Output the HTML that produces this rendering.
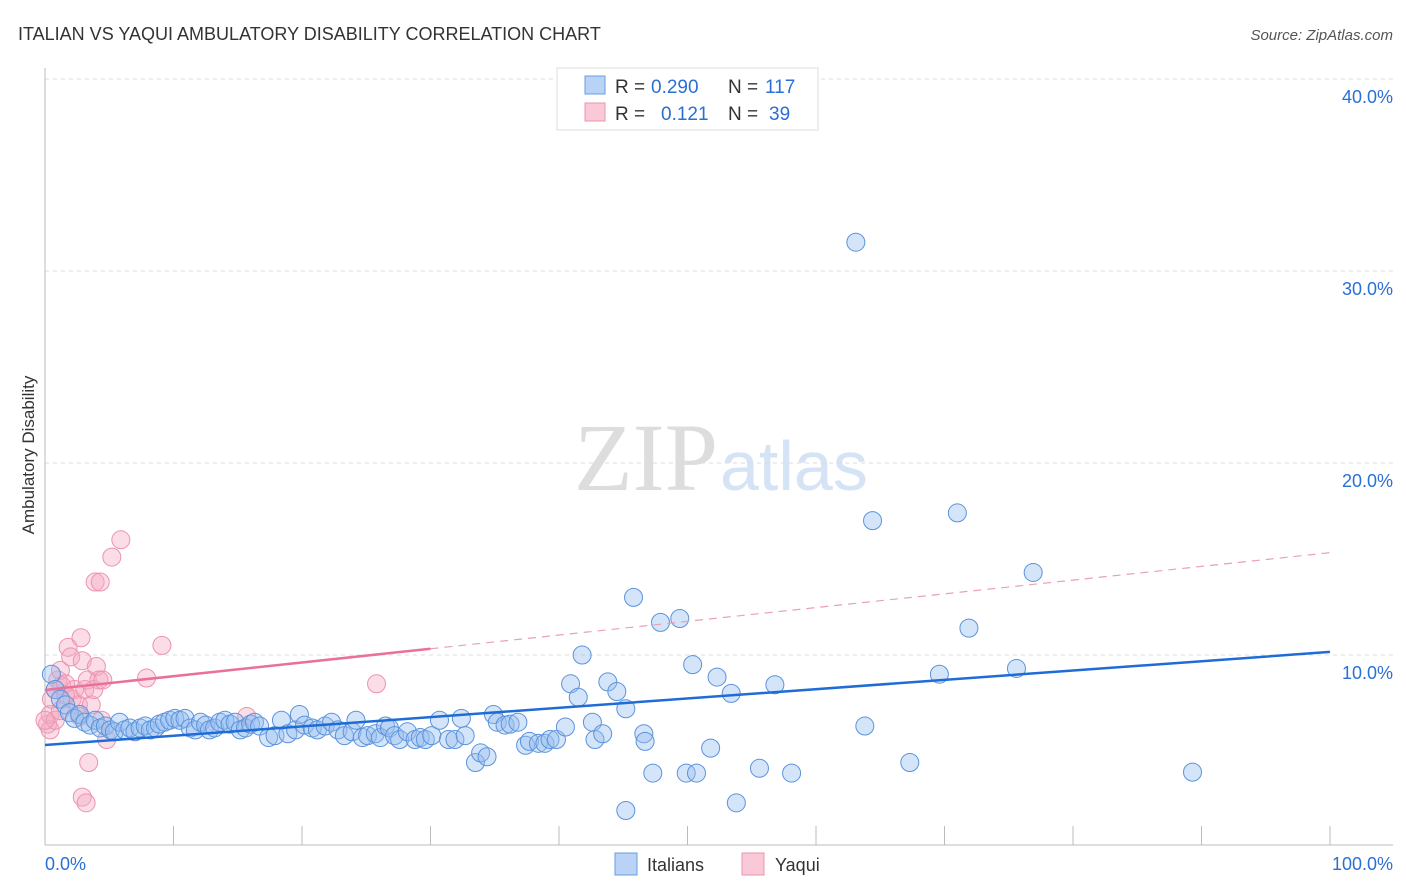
<!DOCTYPE html>
<html><head><meta charset="utf-8"><style>
body{margin:0;background:#fff;font-family:"Liberation Sans",sans-serif;}
svg{display:block}
</style></head><body>
<svg width="1406" height="892">
<text x="18" y="40" font-size="18" fill="#333">ITALIAN VS YAQUI AMBULATORY DISABILITY CORRELATION CHART</text>
<text x="1393" y="40" font-size="15" fill="#555" font-style="italic" text-anchor="end">Source: ZipAtlas.com</text>
<text x="718" y="490" font-size="96" fill="#ddd" text-anchor="end" font-family="Liberation Serif,serif">ZIP</text>
<text x="720" y="490" font-size="70" fill="#d4e3f5">atlas</text>
<g id="grid"></g><g id="axes"></g><g id="marks"></g>
<text transform="translate(34,455) rotate(-90)" font-size="17" fill="#333" text-anchor="middle">Ambulatory Disability</text>
<g>
<rect x="557" y="68" width="261" height="62" fill="#fff" stroke="#ddd"/>
<rect x="585" y="76" width="20" height="18" fill="#b8d3f5" stroke="#6a9de0"/>
<rect x="585" y="103" width="20" height="18" fill="#f9c9d7" stroke="#ec93ae"/>
<text x="615" y="93" font-size="19" fill="#333">R =</text>
<text x="651" y="93" font-size="19" fill="#2a6fd6">0.290</text>
<text x="728" y="93" font-size="19" fill="#333">N =</text>
<text x="765" y="93" font-size="19" fill="#2a6fd6">117</text>
<text x="615" y="120" font-size="19" fill="#333">R =</text>
<text x="661" y="120" font-size="19" fill="#2a6fd6">0.121</text>
<text x="728" y="120" font-size="19" fill="#333">N =</text>
<text x="769" y="120" font-size="19" fill="#2a6fd6">39</text>
</g>
<g>
<rect x="615" y="853" width="22" height="22" fill="#b8d3f5" stroke="#6a9de0"/>
<text x="647" y="871" font-size="18" fill="#333">Italians</text>
<rect x="742" y="853" width="22" height="22" fill="#f9c9d7" stroke="#ec93ae"/>
<text x="775" y="871" font-size="18" fill="#333">Yaqui</text>
</g>
</svg>
<script>
const yTicks=[10,20,30,40];
const yTickLabels=["10.0%","20.0%","30.0%","40.0%"];
const xTickVals=[0,10,20,30,40,50,60,70,80,90,100];
const italianX=[0.5,0.8,1.2,1.6,1.9,2.3,2.7,3.1,3.5,3.9,4.3,4.7,5.1,5.4,5.8,6.2,6.6,7.0,7.4,7.8,8.2,8.6,8.9,9.3,9.7,10.1,10.5,10.9,11.3,11.7,12.1,12.5,12.8,13.2,13.6,14.0,14.4,14.8,15.2,15.6,16.0,16.3,16.7,17.4,17.9,18.4,18.9,19.5,19.8,20.2,20.8,21.2,21.8,22.3,22.8,23.3,23.9,24.2,24.7,25.1,25.7,26.1,26.5,26.8,27.2,27.6,28.2,28.8,29.2,29.6,30.1,
30.7,31.4,31.9,32.4,32.7,33.5,33.9,34.4,34.9,35.2,35.8,36.2,36.8,37.4,37.7,38.4,38.9,39.3,39.8,
40.5,40.9,41.5,41.8,42.6,42.8,43.4,43.8,44.5,45.2,45.2,45.8,46.6,46.7,47.3,47.9,49.4,49.9,50.4,50.7,51.8,52.3,53.4,53.8,55.6,56.8,58.1,63.1,63.8,64.4,67.3,69.6,71.0,71.9,75.6,76.9,89.3];
const italianY=[9.0,8.2,7.7,7.4,7.0,6.7,6.9,6.5,6.35,6.6,6.2,6.3,6.1,6.0,6.5,6.1,6.2,6.0,6.2,6.3,6.1,6.2,6.4,6.5,6.6,6.7,6.6,6.7,6.2,6.1,6.5,6.35,6.1,6.2,6.5,6.6,6.4,6.5,6.1,6.2,6.4,6.5,6.3,5.7,5.8,6.6,5.9,6.1,6.9,6.35,6.2,6.1,6.3,6.5,6.1,5.8,6.0,6.6,5.7,5.8,5.9,5.7,6.3,6.2,5.8,5.6,6.0,5.6,5.7,5.6,5.8,
6.6,5.6,5.6,6.7,5.8,4.4,4.9,4.7,6.9,6.5,6.35,6.4,6.5,5.3,5.5,5.4,5.4,5.6,5.6,
6.25,8.5,7.8,10.0,6.5,5.6,5.9,8.6,8.1,7.2,1.9,13.0,5.9,5.5,3.85,11.7,11.9,3.85,9.5,3.85,5.15,8.85,8.0,2.3,4.1,8.45,3.85,31.5,6.3,17.0,4.4,9.0,17.4,11.4,9.3,14.3,3.9];
const yaquiX=[0.2,0.4,0.5,0.8,1,1.2,1.3,1.6,1.8,2,2.1,2.3,2.6,2.8,2.9,3.1,3.3,3.4,3.6,3.8,3.9,4,4.2,4.4,4.3,4.5,4.8,5.2,5.9,7.9,9.1,15.7,25.8,2.9,3.2,0.4,0.8,1.2,0,1.6,2.7];
const yaquiY=[6.4,6.9,7.7,8.2,8.7,9.2,8.4,8.5,10.4,9.9,7.7,8.2,7.4,10.9,9.7,8.2,8.7,4.4,7.4,8.2,13.8,9.4,8.7,6.6,13.8,8.7,5.6,15.1,16,8.8,10.5,6.8,8.5,2.6,2.3,6.1,6.6,7.1,6.6,7.9,6.8];
const blueTrend=[5.31,10.16];
const pinkTrend=[8.18,15.33];
const NS="http://www.w3.org/2000/svg";
const X=v=>45+v*12.85, Y=v=>847-v*19.2;
function mk(tag,attrs,parent){const e=document.createElementNS(NS,tag);for(const k in attrs)e.setAttribute(k,attrs[k]);document.getElementById(parent).appendChild(e);return e;}
yTicks.forEach((t,i)=>{
 const g=mk('line',{x1:45,x2:1393,y1:Y(t),y2:Y(t),stroke:'#ddd','stroke-dasharray':'4,4'},'grid');
 
 
 const l=mk('text',{x:1393,y:Y(t)+24,'font-size':18,fill:'#2a6fd6','text-anchor':'end'},'grid');
 l.textContent=yTickLabels[i];
 
 
});
const ax=mk('line',{x1:45,x2:45,y1:68,y2:845,stroke:'#bbb'},'axes');


const bx=mk('line',{x1:45,x2:1393,y1:845,y2:845,stroke:'#bbb'},'axes');


xTickVals.forEach(v=>{const t=mk('line',{x1:X(v),x2:X(v),y1:826,y2:845,stroke:'#bbb'},'axes');
 
 });
const x0=mk('text',{x:45,y:870,'font-size':18,fill:'#2a6fd6'},'axes');x0.textContent='0.0%';


const x1=mk('text',{x:1393,y:870,'font-size':18,fill:'#2a6fd6','text-anchor':'end'},'axes');x1.textContent='100.0%';


yaquiX.forEach((v,i)=>{const c=mk('circle',{cx:X(v),cy:Y(yaquiY[i]),r:9,fill:'rgba(246,170,195,0.4)',stroke:'#ec93ae','stroke-width':1},'marks');
 
 });
italianX.forEach((v,i)=>{const c=mk('circle',{cx:X(v),cy:Y(italianY[i]),r:9,fill:'rgba(150,190,240,0.4)',stroke:'#5b93dc','stroke-width':1},'marks');
 
 });
const bl=mk('line',{x1:X(0),y1:Y(blueTrend[0]),x2:X(100),y2:Y(blueTrend[1]),stroke:'#1f6cd6','stroke-width':2.5},'marks');


const py=x=>pinkTrend[0]+(pinkTrend[1]-pinkTrend[0])*x/100;
const ps=mk('line',{x1:X(0),y1:Y(py(0)),x2:X(30),y2:Y(py(30)),stroke:'#e8709a','stroke-width':2.5},'marks');


const pd=mk('line',{x1:X(30),y1:Y(py(30)),x2:X(100),y2:Y(py(100)),stroke:'#e8a0b8','stroke-width':1.2,'stroke-dasharray':'8,6'},'marks');


</script>
</body></html>
